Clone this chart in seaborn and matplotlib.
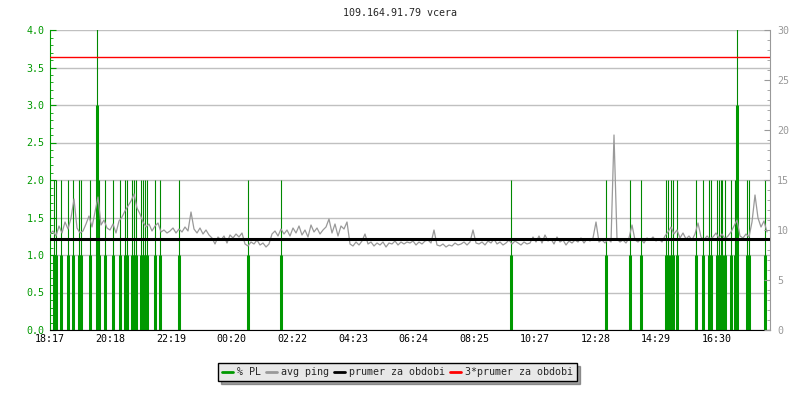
import numpy as np
import pandas as pd
import seaborn as sns
import matplotlib.pyplot as plt
from matplotlib.lines import Line2D
from matplotlib.ticker import MultipleLocator

# chart text
title = '109.164.91.79 vcera'
tick_labels = ['18:17', '20:18', '22:19', '00:20', '02:22', '04:23',
               '06:24', '08:25', '10:27', '12:28', '14:29', '16:30']

# avg ping [ms], one sample every 6 minutes from 18:17
ping = [
    9.6, 9.9, 9.4, 10.4, 9.7, 10.8, 10.1, 11.2, 13.1, 10.2, 9.7, 9.9, 10.6, 11.4, 10.3, 11.8, 13.3, 10.5, 11.0, 10.2,
    10.0, 10.6, 9.7, 10.9, 11.3, 11.9, 12.4, 12.9, 13.6, 12.2, 11.6, 10.8, 10.3, 10.6, 9.9, 10.4, 10.7, 9.8, 10.0, 9.7,
    9.9, 10.2, 9.7, 10.1, 9.8, 10.3, 9.9, 11.8, 10.1, 9.7, 10.2, 9.6, 10.0, 9.5, 9.2, 8.6, 9.3, 9.0, 9.4, 8.7,
    9.5, 9.2, 9.6, 9.3, 9.7, 8.6, 8.4, 8.8, 8.6, 9.0, 8.5, 8.7, 8.3, 8.6, 9.6, 9.9, 9.4, 10.1, 9.6, 10.0,
    9.4, 10.2, 9.7, 10.4, 9.5, 10.0, 9.3, 10.5, 9.8, 10.2, 9.6, 10.0, 10.3, 11.1, 9.7, 10.6, 9.4, 10.4, 10.1, 10.8,
    8.6, 8.4, 8.8, 8.5, 8.9, 9.6, 8.6, 8.8, 8.4, 8.7, 8.5, 8.8, 8.3, 8.7, 8.6, 8.9, 8.5, 8.8, 8.6, 8.8,
    8.7, 8.9, 8.5, 8.8, 8.6, 8.9, 9.0, 8.7, 10.0, 8.5, 8.4, 8.6, 8.3, 8.5, 8.4, 8.7, 8.5, 8.6, 8.8, 8.5,
    8.8, 10.0, 8.7, 8.6, 8.8, 8.5, 8.9, 8.7, 9.1, 8.6, 8.8, 8.5, 8.7, 9.0, 8.6, 8.9, 8.7, 8.5, 8.8, 8.6,
    8.7, 9.3, 8.8, 9.4, 8.7, 9.5, 8.9, 9.1, 8.6, 9.3, 8.8, 9.0, 8.5, 8.9, 8.7, 9.0, 8.8, 9.2, 8.7, 9.1,
    8.9, 9.2, 10.8, 8.8, 9.0, 8.7, 9.1, 8.8, 19.5, 9.1, 8.8, 9.0, 8.7, 9.2, 10.5, 9.0, 8.8, 9.1, 8.7, 9.2,
    9.0, 9.3, 8.9, 9.1, 8.8, 9.4, 9.8, 10.3, 9.6, 10.0, 9.2, 9.7, 9.1, 9.4, 9.0, 9.6, 10.7, 9.3, 9.0, 9.4,
    9.1, 9.3, 9.7, 9.2, 9.6, 9.1, 9.4, 9.8, 10.4, 11.0, 9.4, 9.2, 9.6, 9.3, 10.8, 13.5, 11.2, 10.3, 10.9, 9.8,
]
ping_step = 6  # minutes

# packet loss events: minute after 18:17 and loss value
pl_minutes = [8, 12, 22, 36, 46, 58, 62, 80, 94, 98, 110, 126, 140, 150, 154, 164, 168, 172,
              182, 186, 190, 194, 210, 220, 258, 396, 462, 922, 1112, 1160, 1182, 1232, 1236,
              1242, 1246, 1254, 1292, 1306, 1318, 1322, 1334, 1338, 1342, 1344, 1350, 1362,
              1370, 1374, 1394, 1398, 1430]
pl_values = [1, 1, 1, 1, 1, 1, 1, 1, 3, 1, 1, 1, 1, 1, 1, 1, 1, 1,
             1, 1, 1, 1, 1, 1, 1, 1, 1, 1, 1, 1, 1, 1, 1,
             1, 1, 1, 1, 1, 1, 1, 1, 1, 1, 1, 1, 1,
             1, 3, 1, 1, 1]

mean_ping = 9.09

green = '#009900'
grey = '#999999'

df = pd.DataFrame({'t': np.arange(len(ping)) * ping_step, 'ping': ping})
start = 18 * 60 + 17
tick_pos = [(int(s[:2]) * 60 + int(s[3:]) - start) % 1440 for s in tick_labels]

sns.set_style('white')
plt.rcParams['font.family'] = ['DejaVu Sans Mono']
plt.rcParams['font.size'] = 7.2

fig = plt.figure(figsize=(8, 4), dpi=100)
ax = fig.add_axes([0.0625, 0.175, 0.9, 0.75])
ax2 = ax.twinx()

# packet loss on left axis
pl = np.array(pl_values, dtype=float)
ax.vlines(pl_minutes, 0, pl * 2, color='#008800', linewidth=0.8, zorder=2)
ax.vlines(pl_minutes, 0, pl, color=green, linewidth=2.2, zorder=2)
ax.set_ylim(0, 4)
ax.set_xlim(0, 1440)
ax.yaxis.set_major_locator(MultipleLocator(0.5))
ax.yaxis.set_minor_locator(MultipleLocator(0.1))
ax.set_yticklabels([f'{v:.1f}' for v in ax.get_yticks()])
ax.grid(axis='y', color='#c0c0c0', linewidth=1)
ax.set_axisbelow(True)
ax.set_xticks(tick_pos)
ax.set_xticklabels(tick_labels)
ax.tick_params(axis='y', which='both', direction='in', colors=green, labelcolor=green, pad=4)
ax.tick_params(axis='y', which='major', length=4)
ax.tick_params(axis='y', which='minor', length=2.5)
ax.tick_params(axis='x', direction='in', length=4, colors='black', pad=3)

# ping on right axis
sns.lineplot(data=df, x='t', y='ping', ax=ax2, color=grey, linewidth=0.9, zorder=3)
ax2.axhline(mean_ping, color='black', linewidth=2.2, zorder=4)
ax2.axhline(3 * mean_ping, color='red', linewidth=1.0, zorder=4)
ax2.set_ylim(0, 30)
ax2.set_xlim(0, 1440)
ax2.set_xlabel('')
ax2.set_ylabel('')
ax.set_ylabel('')
ax2.yaxis.set_major_locator(MultipleLocator(5))
ax2.yaxis.set_minor_locator(MultipleLocator(1))
ax2.tick_params(axis='y', which='both', direction='in', colors=grey, labelcolor=grey, pad=5)
ax2.tick_params(axis='y', which='major', length=4)
ax2.tick_params(axis='y', which='minor', length=2.5)

for a in (ax, ax2):
    a.spines['top'].set_visible(False)
ax.spines['left'].set_color(green)
ax.spines['right'].set_visible(False)
ax2.spines['left'].set_visible(False)
ax2.spines['right'].set_color(grey)
ax.spines['bottom'].set_color('black')
ax2.spines['bottom'].set_visible(False)

fig.text(0.5, 0.967, title, ha='center', va='center', fontsize=7.2)

handles = [Line2D([], [], color=green, lw=2),
           Line2D([], [], color=grey, lw=2),
           Line2D([], [], color='black', lw=2),
           Line2D([], [], color='red', lw=2)]
labels = ['% PL', 'avg ping', 'prumer za obdobi', '3*prumer za obdobi']
leg = fig.legend(handles, labels, loc='center', bbox_to_anchor=(0.497, 0.07), ncol=4,
                 frameon=True, fancybox=False, shadow=True, handlelength=1.1,
                 handletextpad=0.4, columnspacing=0.5, borderpad=0.4, fontsize=7.2)
leg.get_frame().set_facecolor('#e8e8e8')
leg.get_frame().set_edgecolor('black')
leg.get_frame().set_alpha(1)

fig.savefig('out.png', dpi=100)
